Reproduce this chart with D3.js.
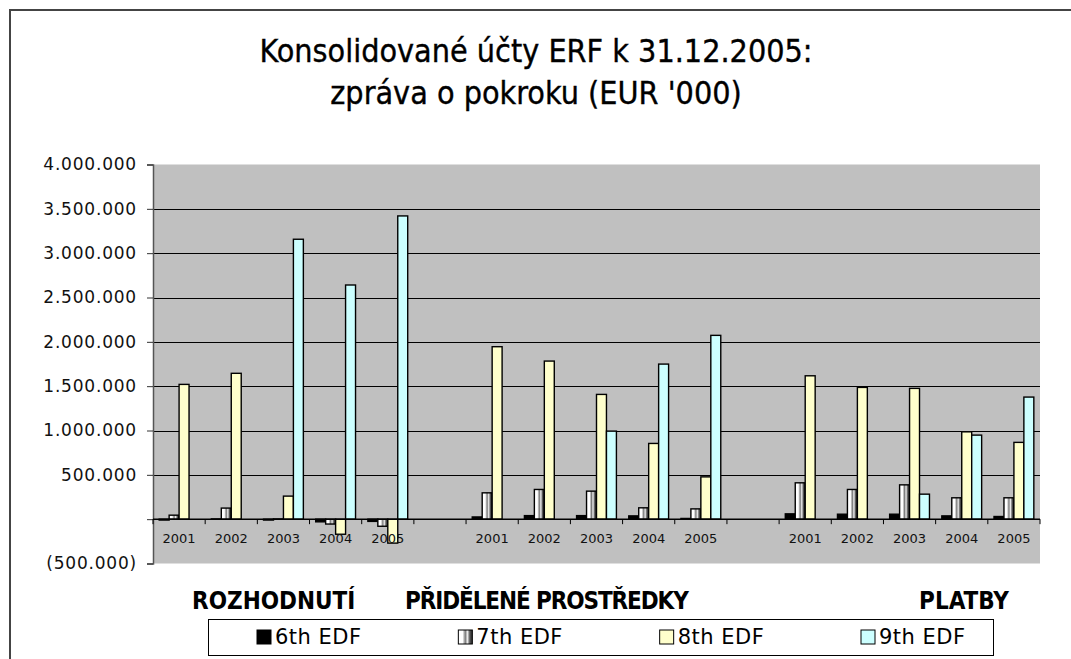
<!DOCTYPE html>
<html>
<head>
<meta charset="utf-8">
<script src="https://cdn.jsdelivr.net/npm/d3@7"></script>
<style>
  body { margin: 0; background: #fff; }
  svg { display: block; }
</style>
</head>
<body>
<svg width="1071" height="659"></svg>
<script>
// chart data (EUR '000), each series lists the 3 groups x 5 years
const groups = ["ROZHODNUTÍ", "PŘIDĚLENÉ PROSTŘEDKY", "PLATBY"];
const years = ["2001", "2002", "2003", "2004", "2005"];
const seriesNames = ["6th EDF", "7th EDF", "8th EDF", "9th EDF"];

const edf6 = [-10000, 3000, -10000, -30000, -25000,
              25000, 40000, 40000, 37000, 8000,
              60000, 56000, 56000, 37000, 30000];
const edf7 = [45000, 125000, 3000, -55000, -80000,
              297000, 335000, 316000, 128000, 116000,
              410000, 335000, 387000, 241000, 241000];
const edf8 = [1520000, 1645000, 260000, -170000, -270000,
              1945000, 1783000, 1407000, 854000, 477000,
              1617000, 1486000, 1475000, 985000, 866000];
const edf9 = [0, 0, 3157000, 2641000, 3420000,
              0, 0, 993000, 1749000, 2073000,
              0, 0, 282000, 948000, 1377000];

const yTicks = [-500000, 0, 500000, 1000000, 1500000, 2000000, 2500000, 3000000, 3500000, 4000000];

const seriesValues = [edf6, edf7, edf8, edf9];
const fills = ["#000000", "url(#g7)", "#ffffcc", "#ccffff"];

const svg = d3.select("svg");

// gradient for the striped 7th EDF bars
const grad = svg.append("defs").append("linearGradient")
  .attr("id", "g7").attr("x1", 0).attr("x2", 1).attr("y1", 0).attr("y2", 0);
[[0, "#ffffff"], [0.3, "#ffffff"], [0.5, "#7a7a7a"], [0.65, "#eeeeee"], [0.82, "#555555"], [1, "#2a2a2a"]]
  .forEach(s => grad.append("stop").attr("offset", s[0]).attr("stop-color", s[1]));

// outer chart border
svg.append("path")
  .attr("d", "M10,680V10H1090")
  .attr("fill", "none").attr("stroke", "#444").attr("stroke-width", 2);

// title
const titleLines = ["Konsolidované účty ERF k 31.12.2005:", "zpráva o pokroku (EUR '000)"];
svg.append("g").selectAll("text")
  .data(titleLines)
  .join("text")
  .attr("x", 536).attr("y", (d, i) => 62 + i * 42)
  .attr("text-anchor", "middle")
  .style("font-family", "'DejaVu Sans Condensed', 'DejaVu Sans'")
  .style("font-size", "32px")
  .attr("stroke", "#000").attr("stroke-width", 0.35)
  .text(d => d);

// categories: 5 years per group with an empty slot between groups
const cats = [];
groups.forEach((g, gi) => {
  years.forEach((yr, yi) => cats.push({ key: gi + "-" + yr, year: yr, idx: gi * 5 + yi }));
  if (gi < groups.length - 1) cats.push({ key: "gap" + gi, year: "", idx: -1 });
});

const plotLeft = 153, plotRight = 1040, plotTop = 164.5, plotBottom = 563.5;

const x = d3.scaleBand().domain(cats.map(d => d.key)).range([plotLeft, plotRight]).padding(0);
const xs = d3.scaleBand().domain(seriesNames).range([0, x.bandwidth()]).paddingInner(0).paddingOuter(0.62);
const y = d3.scaleLinear().domain([-500000, 4000000]).range([plotBottom, plotTop]);

// plot area
svg.append("rect")
  .attr("x", plotLeft).attr("y", plotTop)
  .attr("width", plotRight - plotLeft).attr("height", plotBottom - plotTop)
  .attr("fill", "#c0c0c0");

// gridlines
svg.append("g").selectAll("line")
  .data(yTicks.filter(t => t > 0 && t < 4000000))
  .join("line")
  .attr("x1", plotLeft).attr("x2", plotRight)
  .attr("y1", d => Math.round(y(d)) + 0.5).attr("y2", d => Math.round(y(d)) + 0.5)
  .attr("stroke", "#000").attr("stroke-width", 1);

// y axis
const fmt = v => v === 0 ? "" : (v < 0 ? "(" + d3.format(",")(-v).replace(/,/g, ".") + ")" : d3.format(",")(v).replace(/,/g, "."));
const yAxis = svg.append("g")
  .attr("transform", `translate(${plotLeft},0)`)
  .call(d3.axisLeft(y).tickValues(yTicks).tickSize(6).tickPadding(10).tickFormat(fmt));
yAxis.select(".domain").attr("stroke", "#555").attr("stroke-width", 1.5);
yAxis.selectAll(".tick line").attr("stroke", "#333");
yAxis.selectAll("text")
  .style("font-family", "'DejaVu Sans'")
  .style("font-size", "17px")
  .style("letter-spacing", "0.8px")
  .attr("fill", "#111");

// bars
const barData = [];
cats.filter(c => c.idx >= 0).forEach(c => {
  seriesNames.forEach((s, si) => {
    const v = seriesValues[si][c.idx];
    if (v !== 0) barData.push({ cat: c.key, series: si, value: v });
  });
});

svg.append("g").selectAll("rect")
  .data(barData)
  .join("rect")
  .attr("x", d => x(d.cat) + xs(seriesNames[d.series]))
  .attr("width", xs.bandwidth())
  .attr("y", d => y(Math.max(0, d.value)))
  .attr("height", d => Math.abs(y(d.value) - y(0)))
  .attr("fill", d => fills[d.series])
  .attr("stroke", "#000")
  .attr("stroke-width", 1.4);

// category axis at zero
const y0 = y(0);
svg.append("line")
  .attr("x1", plotLeft).attr("x2", plotRight)
  .attr("y1", y0).attr("y2", y0)
  .attr("stroke", "#000").attr("stroke-width", 1.5);
const bounds = cats.map(c => x(c.key)).concat([plotRight]);
svg.append("g").selectAll("line")
  .data(bounds)
  .join("line")
  .attr("x1", d => d).attr("x2", d => d)
  .attr("y1", y0).attr("y2", y0 + 5)
  .attr("stroke", "#000");
svg.append("g").selectAll("text")
  .data(cats.filter(c => c.idx >= 0))
  .join("text")
  .attr("x", d => x(d.key) + x.bandwidth() / 2)
  .attr("y", y0 + 24)
  .attr("text-anchor", "middle")
  .style("font-family", "'DejaVu Sans'")
  .style("font-size", "13px")
  .attr("fill", "#111")
  .text(d => d.year);

// group titles under the plot
const groupPos = [[192, "start", 0], [405, "start", -1.1], [1009, "end", 0]];
svg.append("g").selectAll("text")
  .data(groups)
  .join("text")
  .attr("x", (d, i) => groupPos[i][0])
  .attr("y", 609)
  .attr("text-anchor", (d, i) => groupPos[i][1])
  .style("font-family", "'DejaVu Sans Condensed', 'DejaVu Sans'")
  .style("font-weight", "bold")
  .style("font-size", "24px")
  .style("letter-spacing", (d, i) => groupPos[i][2] + "px")
  .text(d => d);

// legend
svg.append("rect")
  .attr("x", 208.5).attr("y", 619.5)
  .attr("width", 785).attr("height", 36)
  .attr("fill", "#fff").attr("stroke", "#000").attr("stroke-width", 1);
const lx = d3.scalePoint().domain(seriesNames).range([257, 861]);
const li = svg.append("g").selectAll("g")
  .data(seriesNames)
  .join("g")
  .attr("transform", d => `translate(${lx(d)},630)`);
li.append("rect")
  .attr("width", 14).attr("height", 14)
  .attr("fill", (d, i) => fills[i])
  .attr("stroke", "#000").attr("stroke-width", 1);
li.append("text")
  .attr("x", 18).attr("y", 14)
  .style("font-family", "'DejaVu Sans'")
  .style("font-size", "21px")
  .style("letter-spacing", "0.5px")
  .text(d => d);
</script>
</body>
</html>
